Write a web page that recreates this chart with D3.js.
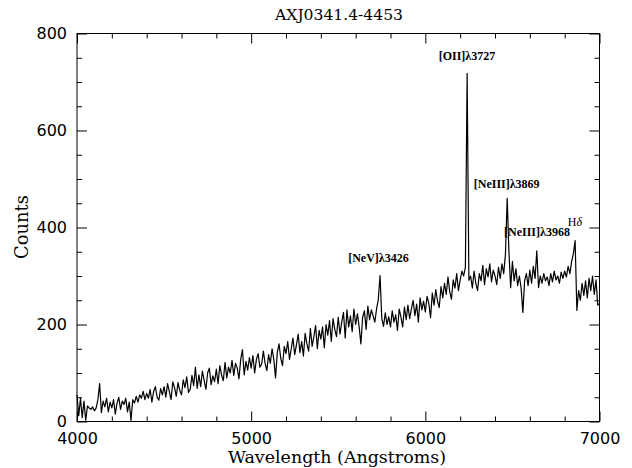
<!DOCTYPE html>
<html>
<head>
<meta charset="utf-8">
<script src="https://cdn.jsdelivr.net/npm/d3@7"></script>
<style>
  html, body { margin: 0; padding: 0; background: #fff; }
  svg { display: block; }
</style>
</head>
<body>
<svg id="chart" width="632" height="468"></svg>
<script>
// ---- data ----
const title = "AXJ0341.4-4453";
const xLabel = "Wavelength (Angstroms)";
const yLabel = "Counts";
const waveStart = 4000;
const waveStep = 10;
// counts, one value every 10 Angstroms from 4000 to 7000
const counts = [
  55, 12, 48, 8, 42, 2, 32, 28, 25, 30,           // 4000
  22, 28, 45, 78, 18, 42, 30, 48, 20, 40,         // 4100
  28, 45, 15, 38, 50, 25, 42, 35, 48, 20,         // 4200
  40, 2, 45, 38, 52, 40, 55, 48, 62, 45,          // 4300
  58, 48, 66, 40, 62, 72, 50, 44, 68, 55,         // 4400
  72, 50, 78, 62, 45, 82, 70, 52, 80, 64,         // 4500
  55, 86, 70, 92, 60, 66, 95, 74, 112, 68,        // 4600
  96, 72, 104, 85, 66, 100, 110, 76, 94, 82,      // 4700
  108, 78, 115, 96, 84, 122, 90, 112, 100, 126,   // 4800
  95, 120, 110, 88, 128, 148, 96, 124, 106, 132,  // 4900
  110, 136, 100, 128, 140, 112, 118, 145, 120, 105, // 5000
  138, 120, 150, 128, 90, 142, 160, 130, 115, 155,  // 5100
  140, 165, 128, 150, 172, 138, 158, 180, 142, 165, // 5200
  135, 182, 160, 145, 192, 155, 175, 198, 150, 188, // 5300
  170, 195, 152, 200, 178, 208, 165, 212, 190, 175, // 5400
  215, 180, 205, 225, 172, 230, 195, 218, 185, 232, // 5500
  200, 222, 195, 160, 215, 228, 190, 238, 210, 230, // 5600
  218, 205, 232, 252, 301, 212, 196, 224, 200, 216, // 5700
  195, 228, 205, 220, 188, 232, 215, 195, 236, 210, // 5800
  240, 212, 232, 250, 218, 242, 205, 255, 230, 248, // 5900
  226, 258, 244, 214, 265, 240, 272, 248, 235, 278, // 6000
  255, 285, 262, 298, 268, 252, 292, 275, 305, 270, // 6100
  292, 310, 300, 318, 718, 291, 300, 275, 310, 285, // 6200
  270, 305, 290, 322, 282, 315, 298, 325, 288, 312, // 6300
  300, 282, 318, 295, 325, 305, 345, 460, 350, 276, // 6400
  330, 290, 315, 280, 300, 275, 225, 290, 305, 280, // 6500
  312, 285, 320, 295, 352, 276, 300, 285, 305, 290, // 6600
  298, 280, 305, 288, 310, 292, 300, 285, 308, 295, // 6700
  310, 298, 320, 305, 330, 346, 373, 229, 270, 250, // 6800
  285, 260, 290, 255, 295, 270, 300, 262, 292, 240, // 6900
  243                                              // 7000
];
const xMajorTicks = [4000, 5000, 6000, 7000];
const yMajorTicks = [0, 200, 400, 600, 800];
const lineLabels = ["[NeV]λ3426", "[OII]λ3727", "[NeIII]λ3869", "[NeIII]λ3968", "Hδ"];
const lineLabelWave = [5731, 6239, 6467, 6641, 6859];
const lineLabelCount = [329, 745, 481, 383, 404];

// ---- layout ----
const svg = d3.select("#chart");
const L = 77, R = 599.5, T = 33.5, B = 421.5;
const x = d3.scaleLinear().domain([4000, 7000]).range([L, R]);
const y = d3.scaleLinear().domain([0, 800]).range([B, T]);

const data = counts.map((c, i) => ({ w: waveStart + i * waveStep, c }));

// spectrum
svg.append("path")
  .datum(data)
  .attr("fill", "none")
  .attr("stroke", "#000")
  .attr("stroke-width", 1.2)
  .attr("stroke-linejoin", "round")
  .attr("d", d3.line().x(d => x(d.w)).y(d => y(d.c)));

// ticks (inward, all four sides)
const xMinor = d3.range(4000, 7001, 200).filter(v => !xMajorTicks.includes(v));
const yMinor = d3.range(0, 801, 50).filter(v => !yMajorTicks.includes(v));
function axisGroup(axis, tx, ty) {
  const g = svg.append("g").attr("transform", `translate(${tx},${ty})`).call(axis);
  g.select(".domain").remove();
  g.selectAll("line").attr("stroke", "#000").attr("stroke-width", 1);
  return g;
}
const fmt = d3.format("d");
const gxb = axisGroup(d3.axisBottom(x).tickValues(xMajorTicks).tickSize(-10).tickFormat(fmt), 0, B);
axisGroup(d3.axisBottom(x).tickValues(xMinor).tickSize(-5).tickFormat(""), 0, B);
axisGroup(d3.axisTop(x).tickValues(xMajorTicks).tickSize(-10).tickFormat(""), 0, T);
axisGroup(d3.axisTop(x).tickValues(xMinor).tickSize(-5).tickFormat(""), 0, T);
const gyl = axisGroup(d3.axisLeft(y).tickValues(yMajorTicks).tickSize(-10).tickFormat(fmt), L, 0);
axisGroup(d3.axisLeft(y).tickValues(yMinor).tickSize(-5).tickFormat(""), L, 0);
axisGroup(d3.axisRight(y).tickValues(yMajorTicks).tickSize(-10).tickFormat(""), R, 0);
axisGroup(d3.axisRight(y).tickValues(yMinor).tickSize(-5).tickFormat(""), R, 0);

gxb.selectAll("text")
  .attr("y", 22.5).attr("dy", null)
  .attr("font-family", "DejaVu Sans").attr("font-size", 16).attr("fill", "#000");
gyl.selectAll("text")
  .attr("x", -10).attr("dy", "0.34em")
  .attr("font-family", "DejaVu Sans").attr("font-size", 16).attr("fill", "#000");

// frame
svg.append("rect")
  .attr("x", L).attr("y", T).attr("width", R - L).attr("height", B - T)
  .attr("fill", "none").attr("stroke", "#000").attr("stroke-width", 1);

// titles, fitted to measured widths
function fitText(sel, target, base) {
  const w = sel.node().getComputedTextLength();
  sel.attr("font-size", base * target / w);
}
const tt = svg.append("text").text(title)
  .attr("x", 339).attr("y", 19.5).attr("text-anchor", "middle")
  .attr("font-family", "DejaVu Serif").attr("font-size", 15).attr("fill", "#000");
fitText(tt, 128, 15);
const xl = svg.append("text").text(xLabel)
  .attr("x", 337).attr("y", 463).attr("text-anchor", "middle")
  .attr("font-family", "DejaVu Serif").attr("font-size", 15).attr("fill", "#000");
fitText(xl, 218, 15);
const yl = svg.append("text").text(yLabel)
  .attr("transform", "translate(28,227) rotate(-90)").attr("text-anchor", "middle")
  .attr("font-family", "DejaVu Serif").attr("font-size", 15).attr("fill", "#000");
fitText(yl, 64, 15);

// emission line labels
lineLabels.forEach((t, i) => {
  const txt = svg.append("text")
    .attr("x", x(lineLabelWave[i])).attr("y", y(lineLabelCount[i]))
    .attr("text-anchor", "middle")
    .attr("font-family", "Liberation Serif").attr("font-weight", "bold")
    .attr("font-size", 12).attr("fill", "#000");
  if (t === "Hδ") {
    txt.attr("font-weight", "normal");
    txt.append("tspan").text("H");
    txt.append("tspan").text("δ").attr("font-style", "italic");
  } else {
    txt.text(t);
  }
});
</script>
</body>
</html>
